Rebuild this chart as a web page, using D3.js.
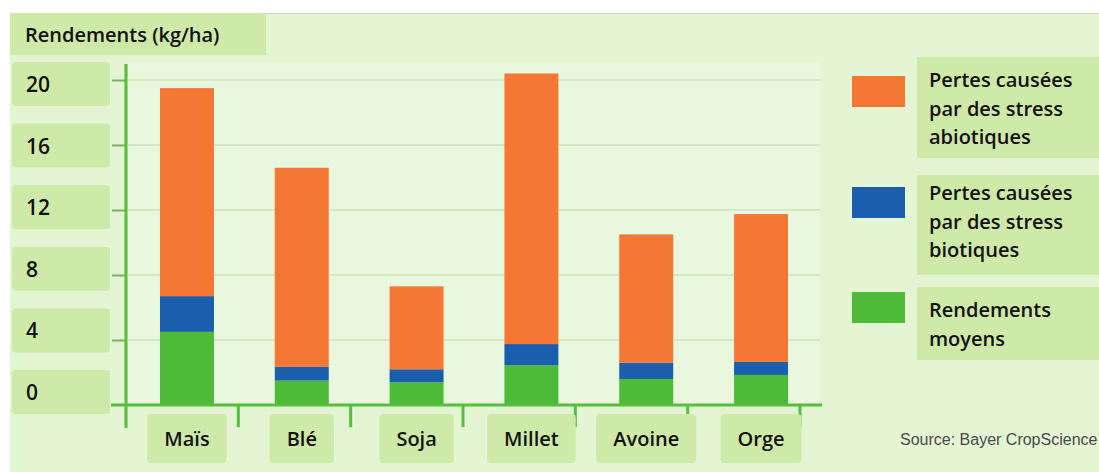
<!DOCTYPE html>
<html>
<head>
<meta charset="utf-8">
<script src="https://cdn.jsdelivr.net/npm/d3@7"></script>
<style>
  body { margin: 0; background: #fff; }
  svg { display: block; }
  .lbl { font-family: "Open Sans", sans-serif; font-weight: 600; fill: #111; }
</style>
</head>
<body>
<div id="graph"></div>
<script>
// data
const crops = ["Maïs", "Blé", "Soja", "Millet", "Avoine", "Orge"];
const moyens = [4.5, 1.5, 1.4, 2.45, 1.6, 1.85];
const biotiques = [2.2, 0.85, 0.8, 1.3, 1.0, 0.8];
const abiotiques = [12.8, 12.25, 5.1, 16.65, 7.9, 9.1];
const yTicks = [0, 4, 8, 12, 16, 20];
const seriesNames = ["Pertes causées par des stress abiotiques",
                     "Pertes causées par des stress biotiques",
                     "Rendements moyens"];
const legendLines = [["Pertes causées", "par des stress", "abiotiques"],
                     ["Pertes causées", "par des stress", "biotiques"],
                     ["Rendements", "moyens"]];

function graph() {
  let w = 1099;
  let h = 472;
  let colors = { moyens: "#4dbb38", biotiques: "#1c5eae", abiotiques: "#f47834" };
  let boxFill = "#cfe9a9";

  const svg = d3.select("#graph")
                .append("svg")
                .attr("width", w)
                .attr("height", h);

  // background
  svg.append("rect").attr("x", 10).attr("y", 13).attr("width", w - 10).attr("height", h - 13)
     .attr("fill", "#e3f5d3");
  svg.append("line").attr("x1", 10).attr("x2", w).attr("y1", 13.5).attr("y2", 13.5)
     .attr("stroke", "#c8d3c0").attr("stroke-width", 1);

  const xScale = d3.scaleBand()
                   .domain(crops)
                   .range([126, 822])
                   .paddingInner(0.53)
                   .paddingOuter(0.296);

  const yScale = d3.scaleLinear()
                   .domain([0, 20])
                   .range([405, 80]);

  // lighter plot area
  svg.append("rect").attr("x", 128).attr("y", 62).attr("width", 692).attr("height", 342)
     .attr("fill", "#e8f7de");

  // grid lines
  svg.append("g")
     .selectAll("line")
     .data(yTicks.slice(1))
     .join("line")
     .attr("x1", 128).attr("x2", 820)
     .attr("y1", d => yScale(d)).attr("y2", d => yScale(d))
     .attr("stroke", "#d4e8c4").attr("stroke-width", 2);

  // title box
  svg.append("rect").attr("x", 10).attr("y", 13).attr("width", 256).attr("height", 42)
     .attr("fill", boxFill);
  svg.append("text").attr("class", "lbl")
     .attr("x", 25).attr("y", 42)
     .style("font-size", "20px")
     .text("Rendements (kg/ha)");

  // y tick labels in boxes
  const labelY = d3.scaleLinear().domain([0, 20]).range([392, 84]);
  const yl = svg.append("g").selectAll("g").data(yTicks).join("g")
                .attr("transform", d => "translate(0," + labelY(d) + ")");
  yl.append("rect").attr("x", 12).attr("y", -22).attr("width", 98).attr("height", 44)
    .attr("rx", 4).attr("fill", boxFill);
  yl.append("text").attr("class", "lbl")
    .attr("x", 26).attr("y", 8)
    .style("font-size", "21px")
    .text(d => d);

  // stacked bars
  const table = crops.map((c, i) => ({ crop: c, moyens: moyens[i], biotiques: biotiques[i], abiotiques: abiotiques[i] }));
  const stack = d3.stack().keys(["moyens", "biotiques", "abiotiques"])(table);

  svg.append("g")
     .selectAll("g")
     .data(stack)
     .join("g")
     .attr("fill", d => colors[d.key])
     .selectAll("rect")
     .data(d => d)
     .join("rect")
     .attr("x", d => xScale(d.data.crop))
     .attr("width", xScale.bandwidth())
     .attr("y", d => yScale(d[1]))
     .attr("height", d => yScale(d[0]) - yScale(d[1]));

  // axes
  const axisColor = "#57bd3c";
  const yAxis = d3.axisLeft(yScale).tickValues(yTicks.slice(1)).tickSize(14).tickFormat("");
  const gy = svg.append("g")
     .attr("id", "y-axis")
     .attr("transform", "translate(126,0)")
     .call(yAxis);
  gy.select(".domain").remove();
  gy.selectAll(".tick line").attr("stroke", "#7bb060").attr("stroke-width", 2);
  svg.append("line").attr("x1", 126).attr("x2", 126).attr("y1", 64).attr("y2", 428)
     .attr("stroke", axisColor).attr("stroke-width", 3);

  svg.append("line").attr("x1", 111).attr("x2", 822).attr("y1", 405).attr("y2", 405)
     .attr("stroke", axisColor).attr("stroke-width", 3);
  // category separators hanging under the axis
  svg.append("g").selectAll("line")
     .data(crops)
     .join("line")
     .attr("x1", (d, i) => 126 + (i + 1) * (800 - 126) / crops.length)
     .attr("x2", (d, i) => 126 + (i + 1) * (800 - 126) / crops.length)
     .attr("y1", 405).attr("y2", 427)
     .attr("stroke", axisColor).attr("stroke-width", 3);

  // x labels in boxes
  const xl = svg.append("g").selectAll("g").data(crops).join("g")
                .attr("transform", d => "translate(" + (xScale(d) + xScale.bandwidth() / 2) + ",439)");
  xl.each(function(d) {
    const g = d3.select(this);
    const t = g.append("text").attr("class", "lbl")
               .attr("text-anchor", "middle").attr("y", 7)
               .style("font-size", "20px").text(d);
    const bw = t.node().getComputedTextLength() + 34;
    g.insert("rect", "text").attr("x", -bw / 2).attr("y", -25).attr("width", bw).attr("height", 49)
     .attr("rx", 4).attr("fill", boxFill);
  });

  // legend
  const legendTop = [57, 175, 287];
  const legendH = [101, 100, 73];
  const swatchY = [76, 187, 292];
  const textY = [87, 200, 317];
  const keys = ["abiotiques", "biotiques", "moyens"];
  const lg = svg.append("g").selectAll("g").data(keys).join("g");
  lg.append("rect").attr("x", 917).attr("y", (d, i) => legendTop[i]).attr("width", 182)
    .attr("height", (d, i) => legendH[i]).attr("fill", boxFill);
  lg.append("rect").attr("x", 852).attr("y", (d, i) => swatchY[i]).attr("width", 53).attr("height", 31)
    .attr("fill", d => colors[d]);
  lg.append("text").attr("class", "lbl")
    .attr("x", 929).attr("y", (d, i) => textY[i])
    .style("font-size", "20px")
    .attr("aria-label", (d, i) => seriesNames[i])
    .selectAll("tspan")
    .data((d, i) => legendLines[i])
    .join("tspan")
    .attr("x", 929)
    .attr("dy", (d, j) => j === 0 ? 0 : 28.5)
    .text(d => d);

  svg.append("text")
     .attr("x", 900).attr("y", 445)
     .style("font-family", "'Liberation Sans', sans-serif")
     .style("font-size", "16px")
     .attr("fill", "#4a4a4a")
     .text("Source: Bayer CropScience");
}

graph();
</script>
</body>
</html>
